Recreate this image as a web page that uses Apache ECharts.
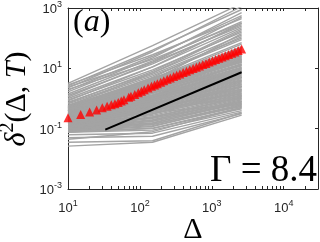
<!DOCTYPE html>
<html><head><meta charset="utf-8">
<script src="https://cdn.jsdelivr.net/npm/echarts@6/dist/echarts.min.js"></script>
<style>html,body{margin:0;padding:0;background:#fff}#c{width:320px;height:242px}</style>
</head><body><div id="c"></div>
<script>
// ---- data ----
const xMajorTicks = [10, 100, 1000, 10000];
const xAllTicks = [10,20,30,40,50,60,70,80,90,100,200,300,400,500,600,700,800,900,
  1000,2000,3000,4000,5000,6000,7000,8000,9000,10000,20000,30000];
const yTicks = [0.001, 0.1, 10, 1000];

// grey single trajectories: Δ sample points and log10(δ²) at those points
const greyDelta = [10, 150, 2600];
const greyLog10 = [
  [0.50,1.75,3.15],[0.42,1.60,2.95],[0.35,1.55,3.05],[0.28,1.40,2.75],[0.22,1.35,2.85],
  [0.15,1.25,2.55],[0.10,1.15,2.45],[0.05,1.20,2.70],[0.00,1.05,2.35],[-0.05,0.95,2.20],
  [-0.08,1.05,2.50],[-0.12,0.85,2.10],[-0.15,0.90,2.30],[-0.18,0.80,2.00],[-0.22,0.75,1.95],
  [-0.25,0.85,2.25],[-0.28,0.65,1.85],[-0.30,0.70,2.05],[-0.33,0.60,1.80],[-0.36,0.55,1.72],
  [0.30,1.20,2.40],[0.38,1.30,2.50],[-0.40,0.60,2.15],[-0.42,0.50,1.68],[0.45,1.45,2.65],
  [-0.25,0.68,1.65],[-0.27,0.62,1.55],[-0.29,0.62,1.62],[-0.31,0.55,1.48],[-0.33,0.55,1.52],
  [-0.35,0.48,1.40],[-0.37,0.50,1.45],[-0.39,0.43,1.33],[-0.41,0.44,1.36],[-0.43,0.37,1.25],
  [-0.45,0.37,1.28],[-0.47,0.30,1.15],[-0.49,0.31,1.20],[-0.51,0.24,1.08],[-0.53,0.23,1.10],
  [-0.55,0.17,0.98],[-0.57,0.17,1.02],[-0.59,0.10,0.90],[-0.61,0.10,0.92],[-0.63,0.03,0.80],
  [-0.65,0.04,0.85],[-0.67,-0.03,0.72],[-0.69,-0.03,0.75],[-0.71,-0.10,0.62],[-0.73,-0.10,0.66],
  [-0.75,-0.18,0.52],[-0.77,-0.18,0.56],[-0.79,-0.26,0.42],[-0.81,-0.26,0.46],[-0.83,-0.34,0.32],
  [-0.85,-0.34,0.36],[-0.87,-0.42,0.22],[-0.89,-0.42,0.26],[-0.91,-0.50,0.12],[-0.93,-0.52,0.16],
  [-0.95,-0.60,0.02],[-0.97,-0.62,0.06],[-0.99,-0.70,-0.08],[-1.01,-0.72,-0.04],[-1.03,-0.80,-0.16],
  [-1.05,-0.82,-0.12],[-1.07,-0.90,-0.26],[-1.09,-0.93,-0.22],[-1.10,-1.00,-0.34],[-1.12,-1.05,-0.40],
  [-0.60,0.20,1.30],[-0.66,0.10,1.15],[-0.72,0.00,1.00],[-0.78,-0.08,0.88],[-0.84,-0.18,0.70],
  [-0.90,-0.28,0.55],[-0.96,-0.40,0.40],[-1.02,-0.50,0.25],[-1.06,-0.62,0.05],[-1.08,-0.75,-0.15],
  [-0.50,0.05,0.70],[-0.56,-0.05,0.45],[-0.62,-0.15,0.30],[-0.68,-0.25,0.15],[-0.74,-0.35,0.00],
  [-0.80,-0.45,-0.20],[-0.44,0.45,1.60],[-0.40,0.55,1.70],
  [-0.26,0.64,1.58],[-0.30,0.58,1.50],[-0.34,0.51,1.42],[-0.38,0.46,1.38],[-0.42,0.40,1.30],
  [-0.46,0.33,1.22],[-0.50,0.27,1.12],[-0.54,0.20,1.04],[-0.58,0.13,0.95],[-0.62,0.07,0.88],
  [-0.66,0.00,0.78],[-0.70,-0.06,0.69],[-0.74,-0.14,0.59],[-0.78,-0.22,0.49],[-0.82,-0.30,0.39],
  [-0.86,-0.38,0.29],[-0.90,-0.46,0.19],[-0.94,-0.56,0.09],[-0.98,-0.66,-0.01],[-1.02,-0.76,-0.10],
  [-1.06,-0.86,-0.20],[-1.11,-0.98,-0.30],[-0.36,0.40,1.20],[-0.48,0.20,0.95],[-0.58,0.00,0.60],
  [-0.70,-0.20,0.40],[-0.82,-0.40,0.10],[-0.92,-0.65,-0.10],[-1.00,-0.85,-0.25],[-0.30,0.45,1.25],
  [-1.20,-1.15,-0.45],[-1.30,-1.25,-0.50],[-1.45,-1.40,-0.48],[-1.58,-1.45,-0.55],[-1.35,-1.10,-0.30]
];

// ensemble mean (red triangles)
const meanDelta = [10,15,20,25,30,35,40,45,50,55,60,70,75,85,95,105,115,130,145,160,175,195,215,240,
  265,295,325,360,400,445,495,550,610,675,750,830,920,1020,1130,1255,1390,1540,1710,1895,2100,2330,2600];
const meanMSD = [0.232,0.295,0.355,0.417,0.49,0.55,0.617,0.676,0.741,0.826,0.912,1.09,1.18,1.36,1.56,
  1.75,1.95,2.24,2.53,2.81,3.09,3.47,3.85,4.32,4.78,5.33,5.89,6.53,7.28,8.05,8.93,9.86,10.9,12.0,13.3,
  14.6,16.1,17.8,19.6,21.7,23.8,26.1,28.7,31.5,34.9,38.9,43.6];

// black reference line
const refDelta = [33, 2600];
const refMSD = [0.093, 7.4];

const panelLabel = '(a)';
const gammaLabel = 'Γ = 8.4';

// ---- chart ----
const axisColor = '#262626';
const tickRich = {
  b: {fontFamily: 'Liberation Sans', fontSize: 13, lineHeight: 16, verticalAlign: 'bottom', color: axisColor},
  s: {fontFamily: 'Liberation Sans', fontSize: 9, lineHeight: 9, verticalAlign: 'top', color: axisColor}
};
const powLabel = v => '{b|10}{s|' + Math.round(Math.log10(v)) + '}';

function xAx(pos, labels) {
  return {
    type: 'log', logBase: 10, min: 10, max: 30000, position: pos,
    axisLine: {show: true, onZero: false, lineStyle: {color: axisColor, width: 1}},
    axisTick: {show: true, inside: true, length: 3, customValues: xAllTicks, lineStyle: {color: axisColor, width: 1}},
    axisLabel: labels ? {show: true, customValues: xMajorTicks, formatter: powLabel, rich: tickRich, margin: 10} : {show: false},
    splitLine: {show: false}, minorTick: {show: false}
  };
}
function yAx(pos, labels) {
  return {
    type: 'log', logBase: 10, min: 0.001, max: 1000, position: pos,
    axisLine: {show: true, onZero: false, lineStyle: {color: axisColor, width: 1}},
    axisTick: {show: true, inside: true, length: 3, customValues: yTicks, lineStyle: {color: axisColor, width: 1}},
    axisLabel: labels ? {show: true, customValues: yTicks, formatter: powLabel, rich: tickRich, margin: 6} : {show: false},
    splitLine: {show: false}, minorTick: {show: false}
  };
}

const series = [];
greyLog10.forEach(row => {
  series.push({
    type: 'line', xAxisIndex: 0, yAxisIndex: 0, silent: true, animation: false,
    symbol: 'none', showSymbol: false,
    lineStyle: {color: '#a4a4a4', width: 1.4},
    data: greyDelta.map((d, j) => [d, Math.pow(10, row[j])]), z: 2
  });
});
series.push({
  type: 'line', symbol: 'none', silent: true, animation: false,
  lineStyle: {color: '#000', width: 2},
  data: refDelta.map((d, i) => [d, refMSD[i]]), z: 3
});
series.push({
  type: 'scatter', symbol: 'triangle', symbolSize: 9, clip: false, silent: true, animation: false,
  itemStyle: {color: '#ff0000'},
  data: meanDelta.map((d, i) => [d, meanMSD[i]]), z: 4
});

const serif = 'Liberation Serif';
const chart = echarts.init(document.getElementById('c'), null, {renderer: 'canvas'});
chart.setOption({
  animation: false,
  backgroundColor: '#fff',
  grid: {left: 68, top: 7, width: 250, height: 182, containLabel: false},
  xAxis: [xAx('bottom', true), xAx('top', false)],
  yAxis: [yAx('left', true), yAx('right', false)],
  series: series,
  graphic: [
    {type: 'text', x: 73, y: 23, z: 10, silent: true,
     style: {text: '{r|(}{i|a}{r|)}', align: 'left', verticalAlign: 'middle',
       rich: {r: {fontFamily: serif, fontSize: 32, fill: '#000'}, i: {fontFamily: serif, fontStyle: 'italic', fontSize: 32, fill: '#000'}}}},
    {type: 'text', x: 317, y: 171, z: 10, silent: true,
     style: {text: gammaLabel, align: 'right', verticalAlign: 'middle', fontFamily: serif, fontSize: 37, fill: '#000'}},
    {type: 'text', x: 193, y: 230, z: 10, silent: true,
     style: {text: 'Δ', align: 'center', verticalAlign: 'middle', fontFamily: serif, fontSize: 30, fill: '#000'}},
    {type: 'text', x: 15, y: 99, rotation: Math.PI / 2, z: 10, silent: true,
     style: {text: '{i|δ}{s|2}{r|(Δ, }{i|T}{r|)}', align: 'center', verticalAlign: 'middle',
       rich: {
         i: {fontFamily: serif, fontStyle: 'italic', fontSize: 30, lineHeight: 34, verticalAlign: 'bottom', fill: '#000'},
         r: {fontFamily: serif, fontSize: 30, lineHeight: 34, verticalAlign: 'bottom', fill: '#000'},
         s: {fontFamily: serif, fontSize: 20, lineHeight: 20, verticalAlign: 'top', fill: '#000'}
       }}}
  ]
});
</script></body></html>
